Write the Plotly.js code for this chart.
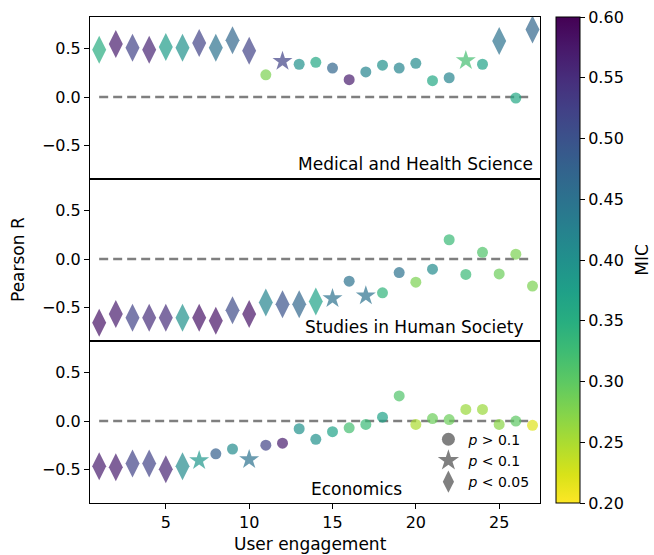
<!DOCTYPE html>
<html>
<head>
<meta charset="utf-8">
<script src="https://cdn.plot.ly/plotly-3.0.1.min.js"></script>
<style>html,body{margin:0;padding:0;background:#fff;}#chart{width:654px;height:555px;}</style>
</head>
<body>
<div id="chart"></div>
<script>
// ---- data ----
const engagement = [1,2,3,4,5,6,7,8,9,10,11,12,13,14,15,16,17,18,19,20,21,22,23,24,25,26,27];

const panelNames = ["Medical and Health Science", "Studies in Human Society", "Economics"];

// Medical and Health Science
const medR   = [0.49,0.55,0.51,0.49,0.52,0.51,0.56,0.51,0.59,0.48,0.23,0.37,0.34,0.36,0.30,0.18,0.26,0.33,0.30,0.35,0.17,0.20,0.38,0.34,0.58,-0.01,0.70];
const medMIC = [0.35,0.57,0.52,0.56,0.38,0.40,0.52,0.45,0.47,0.52,0.28,0.52,0.40,0.36,0.47,0.57,0.42,0.40,0.42,0.41,0.36,0.42,0.32,0.37,0.45,0.36,0.47];
const medSig = ["p05","p05","p05","p05","p05","p05","p05","p05","p05","p05","ns","p1","ns","ns","ns","ns","ns","ns","ns","ns","ns","ns","p1","ns","p05","ns","p05"];

// Studies in Human Society
const humR   = [-0.66,-0.57,-0.61,-0.61,-0.61,-0.61,-0.61,-0.64,-0.53,-0.57,-0.45,-0.47,-0.47,-0.44,-0.41,-0.23,-0.38,-0.35,-0.14,-0.24,-0.105,0.20,-0.16,0.07,-0.155,0.05,-0.28];
const humMIC = [0.58,0.57,0.52,0.55,0.55,0.40,0.58,0.58,0.51,0.58,0.42,0.50,0.47,0.37,0.45,0.45,0.45,0.34,0.45,0.28,0.41,0.33,0.33,0.31,0.29,0.28,0.28];
const humSig = ["p05","p05","p05","p05","p05","p05","p05","p05","p05","p05","p05","p05","p05","p05","p1","ns","p1","ns","ns","ns","ns","ns","ns","ns","ns","ns","ns"];

// Economics
const ecoR   = [-0.47,-0.48,-0.44,-0.44,-0.50,-0.47,-0.41,-0.34,-0.29,-0.40,-0.25,-0.23,-0.08,-0.19,-0.11,-0.07,-0.035,0.04,0.26,-0.035,0.025,0.015,0.12,0.12,-0.035,0.0,-0.045];
const ecoMIC = [0.57,0.57,0.52,0.52,0.56,0.41,0.39,0.48,0.41,0.45,0.52,0.57,0.40,0.40,0.37,0.32,0.33,0.37,0.31,0.25,0.29,0.29,0.26,0.26,0.27,0.30,0.22];
const ecoSig = ["p05","p05","p05","p05","p05","p05","p1","ns","ns","p1","ns","ns","ns","ns","ns","ns","ns","ns","ns","ns","ns","ns","ns","ns","ns","ns","ns"];

const sigKeys   = ["ns", "p1", "p05"];
const sigLabels = ["<i>p</i> &gt; 0.1", "<i>p</i> &lt; 0.1", "<i>p</i> &lt; 0.05"];

const micTicks = [0.20,0.25,0.30,0.35,0.40,0.45,0.50,0.55,0.60];
const rTicks = [-0.5, 0.0, 0.5];

// ---- styles ----
const FONT = "DejaVu Sans";
const symbolOf = {ns: "circle", p1: "star", p05: "diamond-tall"};
const sizeOf   = {ns: 11, p1: 15, p05: 20};

const panels = [
  {r: medR, mic: medMIC, sig: medSig, xa: "x3", ya: "y3"},
  {r: humR, mic: humMIC, sig: humSig, xa: "x2", ya: "y2"},
  {r: ecoR, mic: ecoMIC, sig: ecoSig, xa: "x",  ya: "y"}
];

const traces = [];
panels.forEach((p, i) => {
  traces.push({
    type: "scatter", mode: "markers",
    x: engagement, y: p.r, xaxis: p.xa, yaxis: p.ya,
    showlegend: false, hoverinfo: "x+y",
    marker: {
      symbol: p.sig.map(s => symbolOf[s]),
      size: p.sig.map(s => sizeOf[s]),
      color: p.mic, colorscale: "Viridis", reversescale: true,
      cmin: 0.2, cmax: 0.6, opacity: 0.7,
      line: {width: 0},
      showscale: i === 0,
      colorbar: {
        x: 1.0356, xanchor: "left", xpad: 0, ypad: 0,
        y: 0.5, yanchor: "middle", len: 1, lenmode: "fraction",
        thickness: 24, thicknessmode: "pixels",
        outlinewidth: 1, outlinecolor: "#000",
        ticks: "outside", ticklen: 5, tickwidth: 1, tickcolor: "#000",
        tickvals: micTicks, tickformat: ".2f",
        tickfont: {family: FONT, size: 16, color: "#000"}
      }
    }
  });
});

// legend-only entries (gray)
sigKeys.forEach((k, i) => {
  traces.push({
    type: "scatter", mode: "markers", x: [null], y: [null],
    xaxis: "x", yaxis: "y", name: sigLabels[i], showlegend: true,
    marker: {symbol: symbolOf[k], size: sizeOf[k] + 2, color: "#808080", line: {width: 0}}
  });
});

const yRange = [-0.85, 0.83];
const xRange = [0.45, 27.45];

function yax(domain) {
  return {
    domain: domain, range: yRange, showgrid: false, zeroline: false,
    showline: true, mirror: true, linecolor: "#000", linewidth: 1,
    ticks: "outside", ticklen: 5, tickcolor: "#000",
    tickvals: rTicks, tickformat: ".1f",
    tickfont: {family: FONT, size: 16, color: "#000"}
  };
}
function xax(anchor, labels) {
  return {
    anchor: anchor, range: xRange, showgrid: false, zeroline: false,
    showline: true, mirror: true, linecolor: "#000", linewidth: 1,
    ticks: labels ? "outside" : "", ticklen: 5, tickcolor: "#000",
    tickvals: [5,10,15,20,25], showticklabels: labels,
    tickfont: {family: FONT, size: 16, color: "#000"}
  };
}

const xFirst = engagement[0], xLast = engagement[engagement.length - 1];
const shapes = ["y", "y2", "y3"].map((ya, i) => ({
  type: "line", xref: ["x","x2","x3"][i], yref: ya,
  x0: xFirst, x1: xLast, y0: 0, y1: 0,
  line: {color: "#7f7f7f", width: 2.5, dash: "9px,5px"}, layer: "below"
}));

const annFont = {family: FONT, size: 17, color: "#000"};
const annotations = [
  {text: panelNames[0], xref: "paper", yref: "y3 domain", x: 0.7244, y: 0.093, xanchor: "center", yanchor: "middle", showarrow: false, font: annFont},
  {text: panelNames[1], xref: "paper", yref: "y2 domain", x: 0.7222, y: 0.088, xanchor: "center", yanchor: "middle", showarrow: false, font: annFont},
  {text: panelNames[2], xref: "paper", yref: "y domain",  x: 0.5933, y: 0.086, xanchor: "center", yanchor: "middle", showarrow: false, font: annFont},
  {text: "Pearson R", xref: "paper", yref: "paper", x: -0.16, y: 0.5, xanchor: "center", yanchor: "middle", textangle: -90, showarrow: false, font: annFont},
  {text: "User engagement", xref: "paper", yref: "paper", x: 0.489, y: -0.0844, xanchor: "center", yanchor: "middle", showarrow: false, font: annFont},
  {text: "MIC", xref: "paper", yref: "paper", x: 1.226, y: 0.5, xanchor: "center", yanchor: "middle", textangle: -90, showarrow: false, font: annFont}
];

const layout = {
  width: 654, height: 555,
  margin: {l: 90, r: 114, t: 17, b: 52},
  paper_bgcolor: "#fff", plot_bgcolor: "#fff",
  font: {family: FONT, size: 16, color: "#000"},
  xaxis: xax("y", true),
  xaxis2: Object.assign(xax("y2", false), {matches: "x"}),
  xaxis3: Object.assign(xax("y3", false), {matches: "x"}),
  yaxis: yax([0, 1/3]),
  yaxis2: yax([1/3, 2/3]),
  yaxis3: yax([2/3, 1]),
  shapes: shapes,
  annotations: annotations,
  showlegend: true,
  legend: {
    x: 0.752, y: 0.011, xanchor: "left", yanchor: "bottom",
    bgcolor: "rgba(0,0,0,0)", borderwidth: 0,
    font: {family: FONT, size: 14, color: "#000"},
    tracegroupgap: 0, itemwidth: 30
  }
};

Plotly.newPlot("chart", traces, layout, {displayModeBar: false, staticPlot: true});
</script>
</body>
</html>
